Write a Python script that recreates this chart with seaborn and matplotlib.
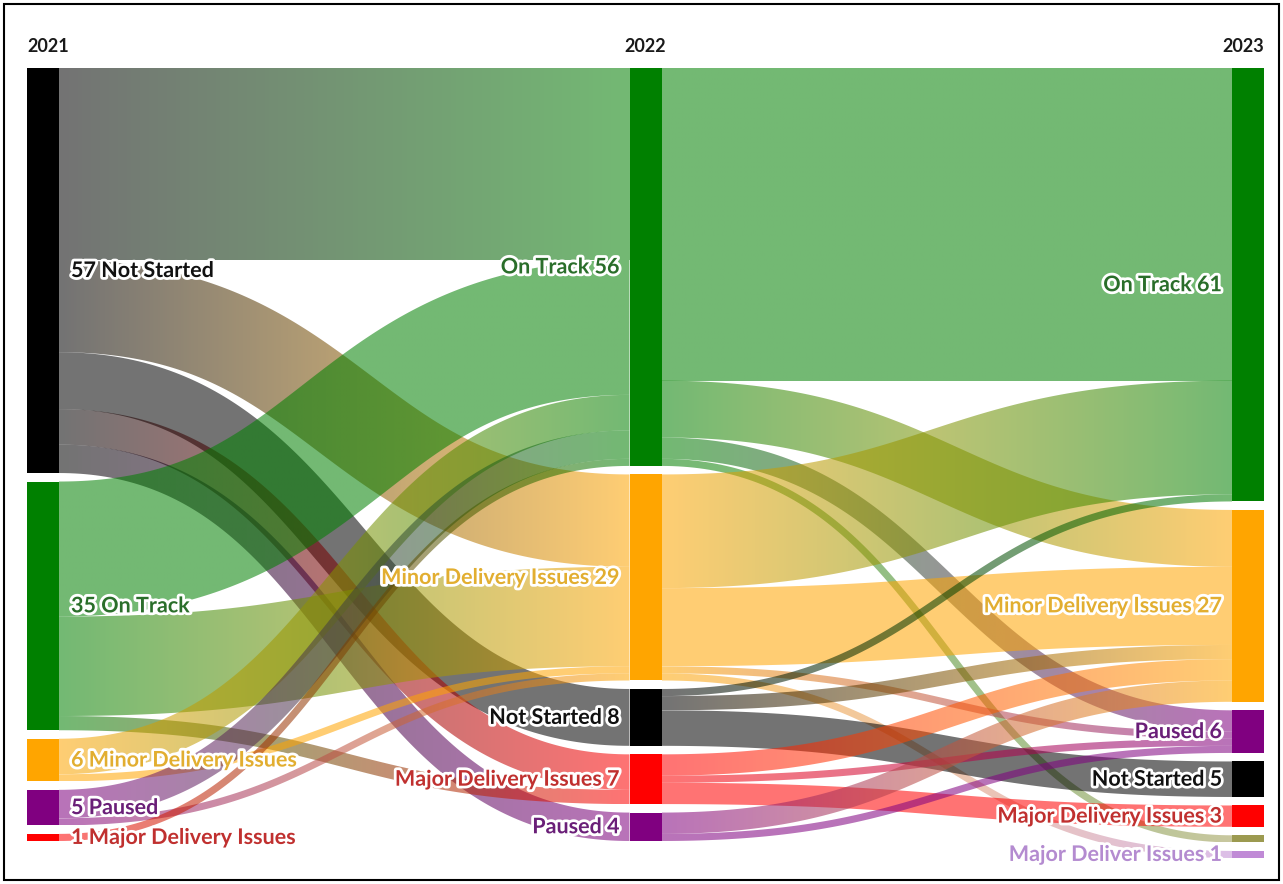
import numpy as np
import matplotlib
matplotlib.use("Agg")
import matplotlib.pyplot as plt
import seaborn as sns
from matplotlib.path import Path
from matplotlib.patches import PathPatch, Rectangle
import matplotlib.patheffects as pe
from matplotlib.colors import to_rgba

# ---------------- data ----------------
years = ["2021", "2022", "2023"]

nodes_2021 = ["Not Started", "On Track", "Minor Delivery Issues", "Paused", "Major Delivery Issues"]
labels_2021 = ["57 Not Started", "35 On Track", "6 Minor Delivery Issues", "5 Paused", "1 Major Delivery Issues"]

nodes_2022 = ["On Track", "Minor Delivery Issues", "Not Started", "Major Delivery Issues", "Paused"]
labels_2022 = ["On Track 56", "Minor Delivery Issues 29", "Not Started 8", "Major Delivery Issues 7", "Paused 4"]

nodes_2023 = ["On Track", "Minor Delivery Issues", "Paused", "Not Started", "Major Delivery Issues",
              "Other", "Major Deliver Issues"]
labels_2023 = ["On Track 61", "Minor Delivery Issues 27", "Paused 6", "Not Started 5",
               "Major Delivery Issues 3", "", "Major Deliver Issues 1"]

# flows 2021 -> 2022
flow_a_src = ["Not Started", "Not Started", "Not Started", "Not Started", "Not Started",
              "On Track", "On Track", "On Track",
              "Minor Delivery Issues", "Minor Delivery Issues",
              "Paused", "Paused",
              "Major Delivery Issues"]
flow_a_tgt = ["On Track", "Minor Delivery Issues", "Not Started", "Major Delivery Issues", "Paused",
              "On Track", "Minor Delivery Issues", "Major Delivery Issues",
              "On Track", "Minor Delivery Issues",
              "On Track", "Minor Delivery Issues",
              "On Track"]
flow_a_val = [27, 13, 8, 5, 4, 19, 14, 2, 5, 1, 4, 1, 1]

# flows 2022 -> 2023
flow_b_src = ["On Track", "On Track", "On Track", "On Track",
              "Minor Delivery Issues", "Minor Delivery Issues", "Minor Delivery Issues", "Minor Delivery Issues",
              "Not Started", "Not Started", "Not Started",
              "Major Delivery Issues", "Major Delivery Issues", "Major Delivery Issues",
              "Paused", "Paused"]
flow_b_tgt = ["On Track", "Minor Delivery Issues", "Paused", "Other",
              "On Track", "Minor Delivery Issues", "Paused", "Major Deliver Issues",
              "On Track", "Minor Delivery Issues", "Not Started",
              "Minor Delivery Issues", "Paused", "Major Delivery Issues",
              "Minor Delivery Issues", "Paused"]
flow_b_val = [44, 8, 3, 1, 16, 11, 1, 1, 1, 2, 5, 3, 1, 3, 3, 1]

node_colors = {
    "Not Started": "#000000",
    "On Track": "#008000",
    "Minor Delivery Issues": "#FFA500",
    "Paused": "#800080",
    "Major Delivery Issues": "#FF0000",
    "Other": "#9C9A50",
    "Major Deliver Issues": "#C08AD6",
}
label_colors = {
    "Not Started": "#111111",
    "On Track": "#2A6E2A",
    "Minor Delivery Issues": "#E2AE30",
    "Paused": "#6A1F78",
    "Major Delivery Issues": "#C0302F",
    "Other": "#9C9A50",
    "Major Deliver Issues": "#B48BD0",
}

# ---------------- style ----------------
sns.set_theme(style="white")
plt.rcParams["font.family"] = ["Lato", "DejaVu Sans"]

W_PX, H_PX = 1283, 884
fig = plt.figure(figsize=(W_PX / 100, H_PX / 100), dpi=100)
AX_L, AX_T, AX_W, AX_H = 27, 68, 1237, 790
ax = fig.add_axes([AX_L / W_PX, 1 - (AX_T + AX_H) / H_PX, AX_W / W_PX, AX_H / H_PX])

NODE_W = 32
PAD = 8.5
LINK_ALPHA = 0.55
LABEL_SIZE = 15.5

columns = [nodes_2021, nodes_2022, nodes_2023]
col_labels = [labels_2021, labels_2022, labels_2023]
flows = [(flow_a_src, flow_a_tgt, flow_a_val), (flow_b_src, flow_b_tgt, flow_b_val)]

# node values = max(incoming, outgoing)
val_in, val_out = {}, {}
for ci, (src, tgt, val) in enumerate(flows):
    for s, t, v in zip(src, tgt, val):
        val_out[(ci, s)] = val_out.get((ci, s), 0) + v
        val_in[(ci + 1, t)] = val_in.get((ci + 1, t), 0) + v
node_val = {}
for ci, col in enumerate(columns):
    for n in col:
        node_val[(ci, n)] = max(val_in.get((ci, n), 0), val_out.get((ci, n), 0))

max_total = max(sum(node_val[(ci, n)] for n in col) for ci, col in enumerate(columns))
max_nodes = max(len(c) for c in columns)
ky = (AX_H - (max_nodes - 1) * PAD) / max_total
spacing = (AX_W - NODE_W) / (len(columns) - 1)

node_pos = {}
for ci, col in enumerate(columns):
    y = 0.0
    for n in col:
        h = node_val[(ci, n)] * ky
        node_pos[(ci, n)] = (ci * spacing, y, y + h)
        y += h + PAD


def band_path(xa, ya, xb, yb, w, n=150):
    t = np.linspace(0, 1, n)
    xm = (xa + xb) / 2
    bx = (1 - t) ** 3 * xa + 3 * (1 - t) ** 2 * t * xm + 3 * (1 - t) * t ** 2 * xm + t ** 3 * xb
    by = (1 - t) ** 3 * ya + 3 * (1 - t) ** 2 * t * ya + 3 * (1 - t) * t ** 2 * yb + t ** 3 * yb
    dx = 3 * (1 - t) ** 2 * (xm - xa) + 3 * t ** 2 * (xb - xm)
    dy = 6 * (1 - t) * t * (yb - ya)
    nrm = np.hypot(dx, dy)
    nx, ny = -dy / nrm, dx / nrm
    top = np.column_stack([bx + nx * w / 2, by + ny * w / 2])
    bot = np.column_stack([bx - nx * w / 2, by - ny * w / 2])
    verts = np.vstack([top, bot[::-1], top[:1]])
    codes = [Path.MOVETO] + [Path.LINETO] * (len(verts) - 2) + [Path.CLOSEPOLY]
    return Path(verts, codes), verts


# draw links
for ci, (src, tgt, val) in enumerate(flows):
    links = list(zip(src, tgt, val))
    col_s, col_t = columns[ci], columns[ci + 1]
    out_off, in_off = {}, {}
    out_order = sorted(range(len(links)), key=lambda i: (col_s.index(links[i][0]), col_t.index(links[i][1])))
    y_src = {}
    for i in out_order:
        s, t, v = links[i]
        off = out_off.get(s, node_pos[(ci, s)][1])
        y_src[i] = off + v * ky / 2
        out_off[s] = off + v * ky
    in_order = sorted(range(len(links)), key=lambda i: (col_t.index(links[i][1]), col_s.index(links[i][0])))
    y_tgt = {}
    for i in in_order:
        s, t, v = links[i]
        off = in_off.get(t, node_pos[(ci + 1, t)][1])
        y_tgt[i] = off + v * ky / 2
        in_off[t] = off + v * ky
    for i, (s, t, v) in enumerate(links):
        xa = node_pos[(ci, s)][0] + NODE_W
        xb = node_pos[(ci + 1, t)][0]
        w = v * ky
        path, verts = band_path(xa, y_src[i], xb, y_tgt[i], w)
        patch = PathPatch(path, facecolor="none", edgecolor="none", transform=ax.transData)
        ax.add_patch(patch)
        c0 = np.array(to_rgba(node_colors[s]))
        c1 = np.array(to_rgba(node_colors[t]))
        g = np.linspace(0, 1, 256)[:, None]
        grad = c0[None, :] * (1 - g) + c1[None, :] * g
        grad[:, 3] = LINK_ALPHA
        img = grad[None, :, :]
        ymin, ymax = verts[:, 1].min(), verts[:, 1].max()
        im = ax.imshow(img, extent=(xa, xb, ymax, ymin), aspect="auto",
                       interpolation="bilinear", zorder=2)
        im.set_clip_path(patch)

# draw nodes and labels
halo = [pe.withStroke(linewidth=4, foreground="white")]
for ci, col in enumerate(columns):
    for n, lab in zip(col, col_labels[ci]):
        x, y0, y1 = node_pos[(ci, n)]
        ax.add_patch(Rectangle((x, y0), NODE_W, y1 - y0, facecolor=node_colors[n],
                               edgecolor="none", zorder=3))
        if not lab:
            continue
        yc = (y0 + y1) / 2
        if ci == 0:
            ax.text(x + NODE_W + 12, yc, lab, ha="left", va="center", fontsize=LABEL_SIZE,
                    fontweight="bold", color=label_colors[n], path_effects=halo, zorder=5)
        else:
            ax.text(x - 10, yc, lab, ha="right", va="center", fontsize=LABEL_SIZE,
                    fontweight="bold", color=label_colors[n], path_effects=halo, zorder=5)

# year headers
for ci, yr in enumerate(years):
    x = ci * spacing
    kw = dict(va="center", fontsize=13, fontweight="bold", color="#1a1a1a", clip_on=False)
    if ci == 0:
        ax.text(x, -21, yr, ha="left", **kw)
    elif ci == len(years) - 1:
        ax.text(x + NODE_W, -21, yr, ha="right", **kw)
    else:
        ax.text(x + NODE_W / 2, -21, yr, ha="center", **kw)

ax.set_xlim(0, AX_W)
ax.set_ylim(AX_H, 0)
ax.axis("off")

# outer frame
fig.add_artist(Rectangle((4 / W_PX, 4 / H_PX), 1 - 8 / W_PX, 1 - 8 / H_PX,
                         transform=fig.transFigure, fill=False, edgecolor="black", linewidth=1.5))

fig.savefig("out.png", dpi=100, facecolor="white")
